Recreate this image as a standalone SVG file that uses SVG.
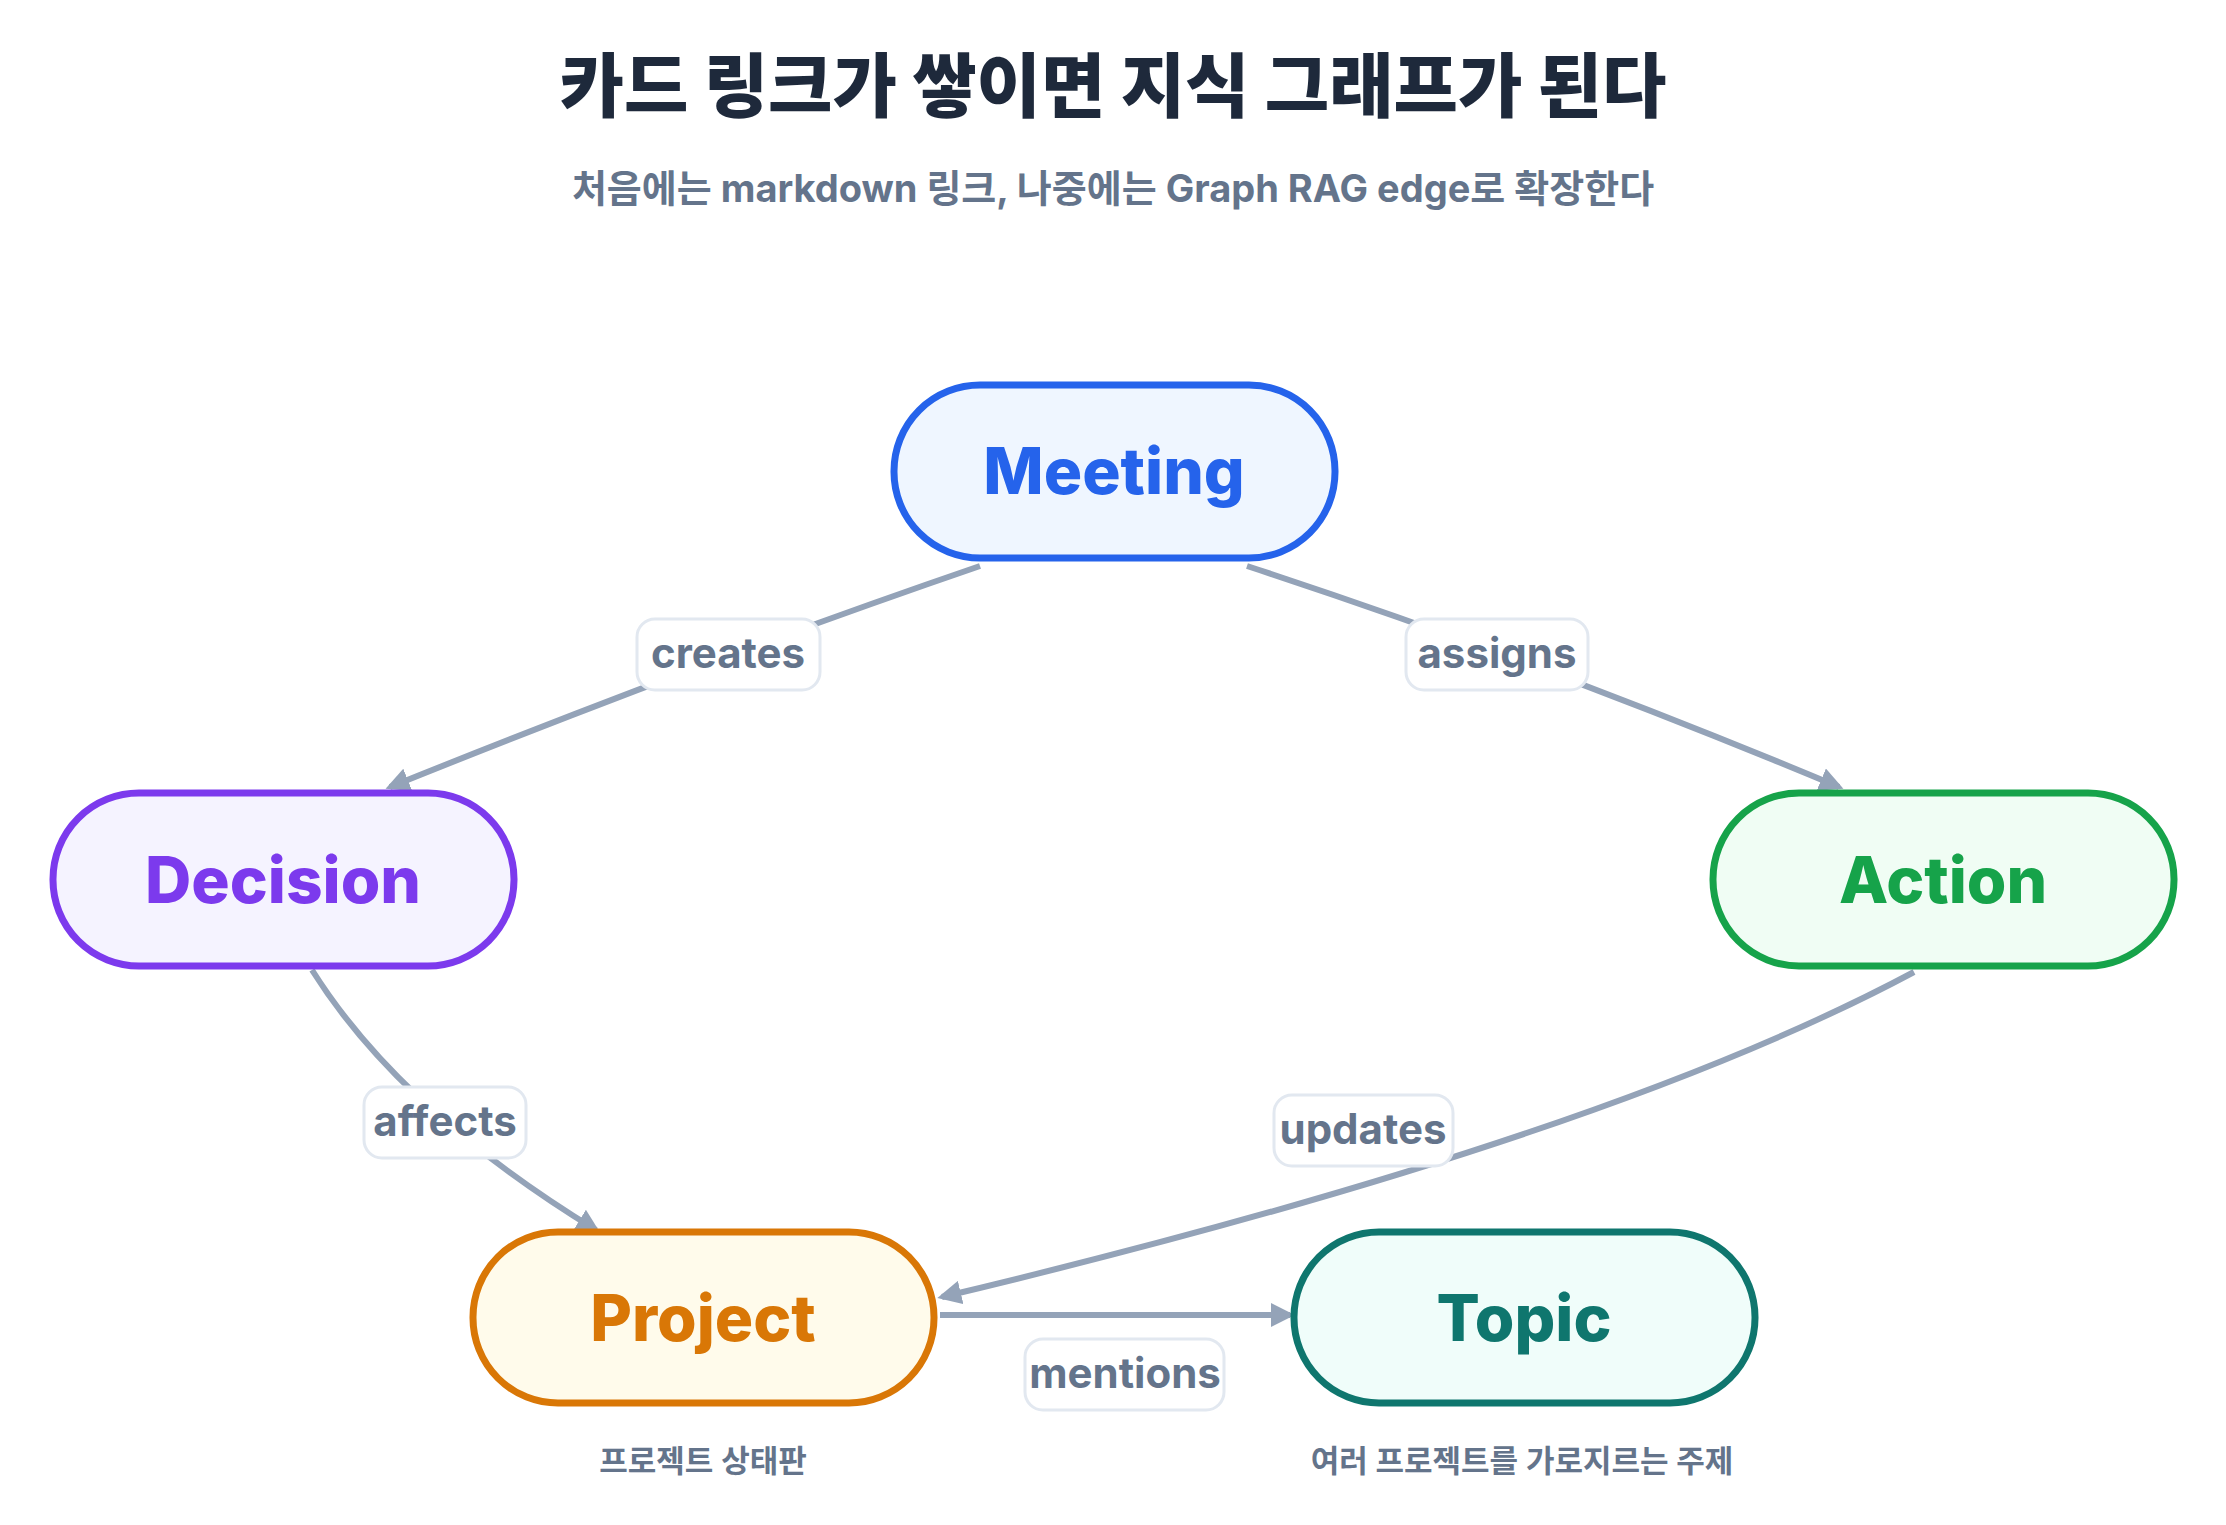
<svg xmlns="http://www.w3.org/2000/svg" width="2226" height="1525" viewBox="0 0 2226 1525">
<style>
text{font-family:Inter,"Noto Sans CJK KR",sans-serif}
.t{font-size:70px;font-weight:800;fill:#1e293b}
.st{font-size:38px;font-weight:700;fill:#64748b}
.nl{font-size:64px;font-weight:800}
.e{fill:none;stroke:#94a3b8;stroke-width:6;marker-end:url(#ah)}
.lb{fill:#fff;stroke:#e2e8f0;stroke-width:3}
.lt{font-size:42px;font-weight:700;fill:#64748b}
.cap{font-size:31px;font-weight:600;fill:#64748b}
</style>
<defs><marker id="ah" viewBox="0 0 10 10" refX="8" refY="5" markerWidth="4" markerHeight="4" orient="auto"><path d="M0 0L10 5L0 10z" fill="#94a3b8"/></marker></defs>
<rect width="2226" height="1525" fill="#fff"/>
<text class="t" x="1113" y="112" text-anchor="middle">카드 링크가 쌓이면 지식 그래프가 된다</text>
<text class="st" x="1113" y="202" text-anchor="middle">처음에는 markdown 링크, 나중에는 Graph RAG edge로 확장한다</text>
<g id="connectors">
<path class="e" d="M980 566 Q700 662 390 787"/>
<path class="e" d="M1247 566 Q1540 662 1839 787"/>
<path class="e" d="M312 970 Q400 1110 596 1230"/>
<path class="e" d="M1914 972 Q1600 1140 942 1297"/>
<path class="e" d="M940 1315 L1290 1315"/>
<rect class="lb" x="637" y="619" width="183" height="71" rx="18"/><text class="lt" x="728" y="668" text-anchor="middle">creates</text>
<rect class="lb" x="1406" y="619" width="182" height="71" rx="18"/><text class="lt" x="1497" y="668" text-anchor="middle">assigns</text>
<rect class="lb" x="364" y="1087" width="162" height="71" rx="18"/><text class="lt" x="445" y="1136" text-anchor="middle">affects</text>
<rect class="lb" x="1274" y="1095" width="179" height="71" rx="18"/><text class="lt" x="1363" y="1144" text-anchor="middle">updates</text>
<rect class="lb" x="1025" y="1339" width="199" height="71" rx="18"/><text class="lt" x="1125" y="1388" text-anchor="middle">mentions</text>
</g>
<g id="meeting"><rect x="894" y="385" width="441" height="173" rx="86" fill="#eff6ff" stroke="#2563eb" stroke-width="7"/><text class="nl" x="1114" y="494" text-anchor="middle" fill="#2563eb">Meeting</text></g>
<g id="decision"><rect x="53" y="793" width="461" height="173" rx="86" fill="#f5f3ff" stroke="#7c3aed" stroke-width="7"/><text class="nl" x="283" y="903" text-anchor="middle" fill="#7c3aed">Decision</text></g>
<g id="action"><rect x="1713" y="793" width="461" height="173" rx="86" fill="#f0fdf4" stroke="#16a34a" stroke-width="7"/><text class="nl" x="1943" y="903" text-anchor="middle" fill="#16a34a">Action</text></g>
<g id="project"><rect x="473" y="1232" width="461" height="171" rx="85" fill="#fffbeb" stroke="#d97706" stroke-width="7"/><text class="nl" x="703" y="1341" text-anchor="middle" fill="#d97706">Project</text><text class="cap" x="703" y="1472" text-anchor="middle">프로젝트 상태판</text></g>
<g id="topic"><rect x="1294" y="1232" width="461" height="171" rx="85" fill="#f0fdfa" stroke="#0f766e" stroke-width="7"/><text class="nl" x="1524" y="1341" text-anchor="middle" fill="#0f766e">Topic</text><text class="cap" x="1522" y="1472" text-anchor="middle">여러 프로젝트를 가로지르는 주제</text></g>
</svg>
